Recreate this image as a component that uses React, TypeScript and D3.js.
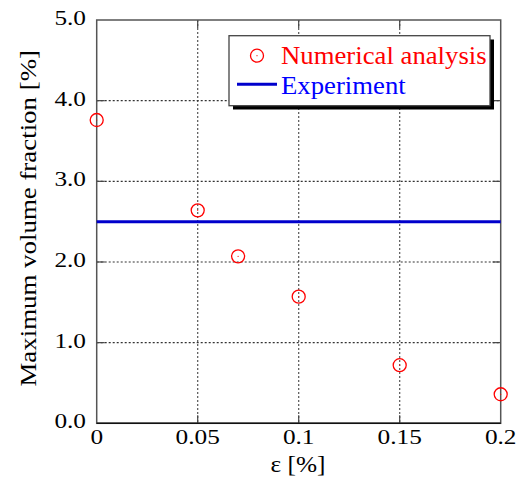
import React from "react";
import * as d3 from "d3";

const strain = [0, 0.05, 0.07, 0.1, 0.15, 0.2];
const volumeFraction = [3.76, 2.64, 2.07, 1.57, 0.72, 0.36];
const experimentValue = 2.5;
const xTicks = [0, 0.05, 0.1, 0.15, 0.2];
const xTickLabels = ["0", "0.05", "0.1", "0.15", "0.2"];
const yTicks = [0, 1, 2, 3, 4, 5];
const yTickLabels = ["0.0", "1.0", "2.0", "3.0", "4.0", "5.0"];
const legendLabels = ["Numerical analysis", "Experiment"];

const W = 523, H = 482;
const L = 96.7, R = 500.7, T = 20, B = 423.3;
const FONT = "'Liberation Serif'";

function T2({ x, y, rot = 0, sx = 1, size, anchor = "start", fill = "#000", children }: any) {
  return (
    <g transform={`translate(${x},${y}) rotate(${rot}) scale(${sx},1)`}>
      <text x={0} y={0} textAnchor={anchor} fontSize={size} fill={fill} style={{ fontFamily: FONT }}>{children}</text>
    </g>
  );
}

export default function App() {
  const x = d3.scaleLinear().domain([0, 0.2]).range([L, R]);
  const y = d3.scaleLinear().domain([0, 5]).range([B, T]);
  const tick = 8;
  return (
    <svg width={W} height={H} style={{ position: "absolute", left: 0, top: 0 }}>
      <rect x={0} y={0} width={W} height={H} fill="#fff" />
      {xTicks.slice(1, -1).map((t, i) => (
        <line key={"gx" + i} x1={x(t)} x2={x(t)} y1={T} y2={B} stroke="#555" strokeWidth={1.2} strokeDasharray="2,2" />
      ))}
      {yTicks.slice(1, -1).map((t, i) => (
        <line key={"gy" + i} x1={L} x2={R} y1={y(t)} y2={y(t)} stroke="#333" strokeWidth={1.2} strokeDasharray="2,2" />
      ))}
      {xTicks.slice(1, -1).map((t, i) => (
        <g key={"tx" + i} stroke="#444" strokeWidth={1.2}>
          <line x1={x(t)} x2={x(t)} y1={B} y2={B - tick} />
          <line x1={x(t)} x2={x(t)} y1={T} y2={T + tick} />
        </g>
      ))}
      {yTicks.slice(1, -1).map((t, i) => (
        <g key={"ty" + i} stroke="#444" strokeWidth={1.2}>
          <line x1={L} x2={L + tick} y1={y(t)} y2={y(t)} />
          <line x1={R} x2={R - tick} y1={y(t)} y2={y(t)} />
        </g>
      ))}
      <rect x={L} y={T} width={R - L} height={B - T} fill="none" stroke="#555" strokeWidth={1.5} />
      <line x1={L} x2={R} y1={B} y2={B} stroke="#111" strokeWidth={1.5} />
      <line x1={L} x2={R} y1={y(experimentValue)} y2={y(experimentValue)} stroke="#0000cc" strokeWidth={3} />
      {strain.map((s, i) => (
        <g key={"p" + i}>
          <circle cx={x(s)} cy={y(volumeFraction[i])} r={6.5} fill="none" stroke="#ff0000" strokeWidth={1.3} />
          <circle cx={x(s)} cy={y(volumeFraction[i])} r={0.6} fill="#ff0000" />
        </g>
      ))}
      {yTicks.map((t, i) => (
        <T2 key={"yl" + i} x={86} y={y(t) + 5} sx={1.15} size={22} anchor="end">{yTickLabels[i]}</T2>
      ))}
      {xTicks.map((t, i) => (
        <T2 key={"xl" + i} x={x(t)} y={444} sx={1.15} size={22} anchor="middle">{xTickLabels[i]}</T2>
      ))}
      <T2 x={298} y={472} sx={1.1} size={23} anchor="middle">ε [%]</T2>
      <T2 x={36} y={218.3} rot={-90} sx={1.12} size={24} anchor="middle">Maximum volume fraction [%]</T2>
      <rect x={233} y={39.5} width={261} height={70} fill="#000" />
      <rect x={229} y={35.7} width={261} height={70} fill="#fff" stroke="#444" strokeWidth={1.3} />
      <circle cx={257} cy={55.7} r={6.5} fill="none" stroke="#ff0000" strokeWidth={1.3} />
      <circle cx={257} cy={55.7} r={0.6} fill="#ff0000" />
      <T2 x={281} y={64.3} sx={1.07} size={25} fill="#ff0000">{legendLabels[0]}</T2>
      <line x1={237} x2={277} y1={84.3} y2={84.3} stroke="#0000cc" strokeWidth={3} />
      <T2 x={281} y={94} sx={1.07} size={25} fill="#0000ff">{legendLabels[1]}</T2>
    </svg>
  );
}
